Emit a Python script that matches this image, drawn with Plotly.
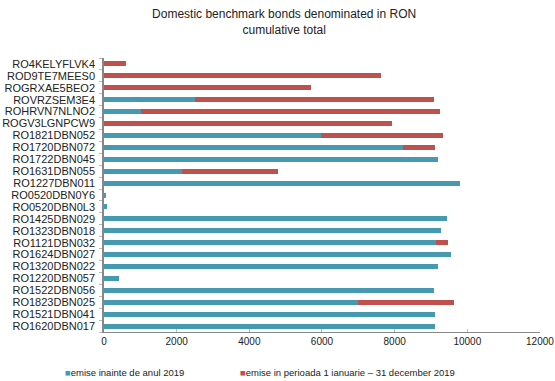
import plotly.graph_objects as go

# Bond issues (RON million), top to bottom
bonds = [
    "RO4KELYFLVK4", "ROD9TE7MEES0", "ROGRXAE5BEO2", "ROVRZSEM3E4", "ROHRVN7NLNO2",
    "ROGV3LGNPCW9", "RO1821DBN052", "RO1720DBN072", "RO1722DBN045", "RO1631DBN055",
    "RO1227DBN011", "RO0520DBN0Y6", "RO0520DBN0L3", "RO1425DBN029", "RO1323DBN018",
    "RO1121DBN032", "RO1624DBN027", "RO1320DBN022", "RO1220DBN057", "RO1522DBN056",
    "RO1823DBN025", "RO1521DBN041", "RO1620DBN017",
]
before_2019 = [
    0, 0, 0, 2500, 1030,
    0, 5970, 8230, 9180, 2140,
    9790, 50, 70, 9440, 9270,
    9130, 9550, 9200, 420, 9090,
    6990, 9120, 9110,
]
during_2019 = [
    600, 7630, 5700, 6580, 8220,
    7920, 3350, 880, 0, 2650,
    0, 0, 0, 0, 0,
    340, 0, 0, 0, 0,
    2630, 0, 0,
]
series_names = [
    "emise inainte de anul 2019",
    "emise in perioada 1 ianuarie \u2013 31 december 2019",
]
x_ticks = [0, 2000, 4000, 6000, 8000, 10000, 12000]

FONT = "Liberation Sans, Arial, sans-serif"
TEXT = "#222222"
BLUE = "#4599b1"
RED = "#c0504d"

fig = go.Figure()
fig.add_trace(go.Bar(
    y=bonds, x=before_2019, orientation="h", name=series_names[0],
    marker=dict(color=BLUE, line=dict(width=0)), width=0.42,
))
fig.add_trace(go.Bar(
    y=bonds, x=during_2019, orientation="h", name=series_names[1],
    marker=dict(color=RED, line=dict(width=0)), width=0.42,
))

# Legend row below the axis: small coloured square followed by the label
legend_items = [(series_names[0], BLUE, -0.093), (series_names[1], RED, 0.307)]
for label, color, xpos in legend_items:
    fig.add_annotation(
        xref="paper", yref="paper", x=xpos, y=-0.149,
        xanchor="left", yanchor="middle", showarrow=False,
        text=f"<span style='color:{color}'>\u25a0</span>{label}",
        font=dict(family=FONT, size=9.5, color=TEXT),
    )

fig.update_layout(
    width=555, height=381,
    margin=dict(l=104, r=15, t=58, b=49, autoexpand=False),
    paper_bgcolor="white", plot_bgcolor="white",
    barmode="stack",
    font=dict(family=FONT, size=10, color=TEXT),
    title=dict(
        text="Domestic benchmark bonds denominated in RON<br>cumulative total",
        x=0.512, xanchor="center", y=0.952, yanchor="top",
        font=dict(family=FONT, size=12, color=TEXT),
        automargin=False,
    ),
    showlegend=False,
    bargap=0,
)
fig.update_xaxes(
    range=[0, 12001], tickmode="array", tickvals=x_ticks,
    ticktext=[str(v) for v in x_ticks],
    showgrid=False, zeroline=False,
    showline=True, linecolor="#888888", linewidth=1,
    ticks="inside", ticklen=3, tickcolor="#bbbbbb",
    ticklabeloverflow="allow",
    tickfont=dict(family=FONT, size=10, color=TEXT),
    automargin=False,
)
fig.update_yaxes(
    categoryorder="array", categoryarray=bonds, autorange="reversed",
    tickmode="array", tickvals=bonds,
    showgrid=False, zeroline=False,
    showline=True, linecolor="#888888", linewidth=1.5,
    ticks="outside", ticklen=3, tickcolor="#bbbbbb", tickson="boundaries",
    ticklabelstandoff=5,
    tickfont=dict(family=FONT, size=11, color=TEXT),
    automargin=False,
)

fig.write_html("out.html")
